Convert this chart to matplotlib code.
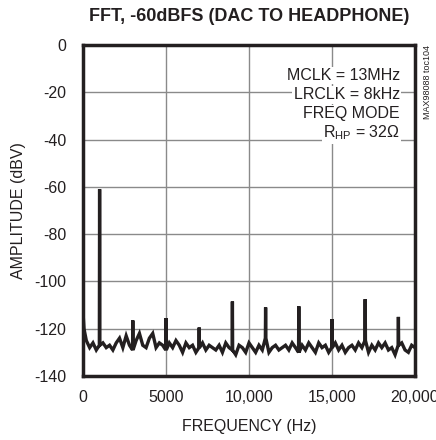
import matplotlib.pyplot as plt
import numpy as np

plt.rcParams['font.family'] = ['Liberation Sans', 'DejaVu Sans']
plt.rcParams['mathtext.fontset'] = 'custom'
plt.rcParams['mathtext.rm'] = 'Liberation Sans'
plt.rcParams['mathtext.it'] = 'Liberation Sans'
plt.rcParams['axes.unicode_minus'] = False

# noise floor, every 200 Hz from 200 Hz to 20 kHz (dBV)
noise_start = [-113, -120]  # at 0 Hz and 60 Hz
noise_freqs = list(range(200, 20001, 200))
noise_dbv = [
    -125, -128, -126, -129, -127, -126, -128, -127, -129, -126,
    -124, -128, -123, -127, -129, -125, -122, -127, -128, -124,
    -122, -128, -126, -127, -129, -126, -128, -125, -127, -130,
    -126, -128, -127, -130, -128, -126, -129, -127, -128, -129,
    -127, -130, -126, -128, -129, -131, -127, -128, -130, -126,
    -128, -130, -127, -129, -124, -130, -128, -127, -129, -128,
    -127, -129, -126, -128, -130, -127, -129, -126, -128, -130,
    -126, -128, -127, -130, -128, -126, -129, -127, -130, -128,
    -127, -129, -126, -128, -125, -130, -127, -129, -126, -128,
    -126, -129, -128, -131, -127, -126, -129, -130, -127, -128,
]

# fundamental and harmonics
peak_freqs = [1000, 3000, 5000, 7000, 9000, 11000, 13000, 15000, 17000, 19000]
peak_dbv = [-61, -116.5, -115.5, -119.5, -108.5, -111, -110.5, -116, -107.5, -115]

# build the trace
freqs = [0, 60]
amps = list(noise_start)
peaks = dict(zip(peak_freqs, peak_dbv))
for f, a in zip(noise_freqs, noise_dbv):
    if f in peaks:
        freqs += [f - 15, f, f + 15]
        amps += [a, peaks[f], a]
    else:
        freqs.append(f)
        amps.append(a)

fig = plt.figure(figsize=(4.36, 4.40), dpi=100)
ax = fig.add_axes([83 / 436, 1 - 376 / 440, 332 / 436, 331 / 440])

ax.plot(freqs, amps, color='#231f20', lw=2.4, solid_joinstyle='miter', zorder=3)

ax.set_xlim(0, 20000)
ax.set_ylim(-140, 0)
ax.set_xticks([0, 5000, 10000, 15000, 20000])
ax.set_xticklabels(['0', '5000', '10,000', '15,000', '20,000'])
ax.set_yticks(np.arange(-140, 1, 20))
ax.grid(True, color='#8a8a8a', lw=1.0)
ax.tick_params(axis='both', length=0, labelsize=11.5, colors='#231f20')
ax.tick_params(axis='x', pad=10)
ax.tick_params(axis='y', pad=12)
for s in ax.spines.values():
    s.set_linewidth(2.5)
    s.set_color('#231f20')

ax.set_xlabel('FREQUENCY (Hz)', fontsize=11.5, color='#231f20', labelpad=10)
ax.set_ylabel('AMPLITUDE (dBV)', fontsize=11.5, color='#231f20', labelpad=6)
ax.set_title('FFT, -60dBFS (DAC TO HEADPHONE)', fontsize=13, fontweight='bold',
             color='#231f20', pad=17)

notes = ['MCLK = 13MHz', 'LRCLK = 8kHz', 'FREQ MODE', r'R$_{\rm HP}$ = 32$\Omega$']
for i, t in enumerate(notes):
    ax.text(0.955, 0.908 - i * 0.058, t, transform=ax.transAxes, ha='right', va='center',
            fontsize=11.5, color='#231f20', zorder=4,
            bbox=dict(facecolor='white', edgecolor='none', pad=1.0))

fig.text(427 / 436, 1 - 45 / 440, 'MAX98088 toc104', rotation=90, ha='center', va='top',
         fontsize=6.5, color='#231f20')

fig.savefig('out.png', dpi=100)
